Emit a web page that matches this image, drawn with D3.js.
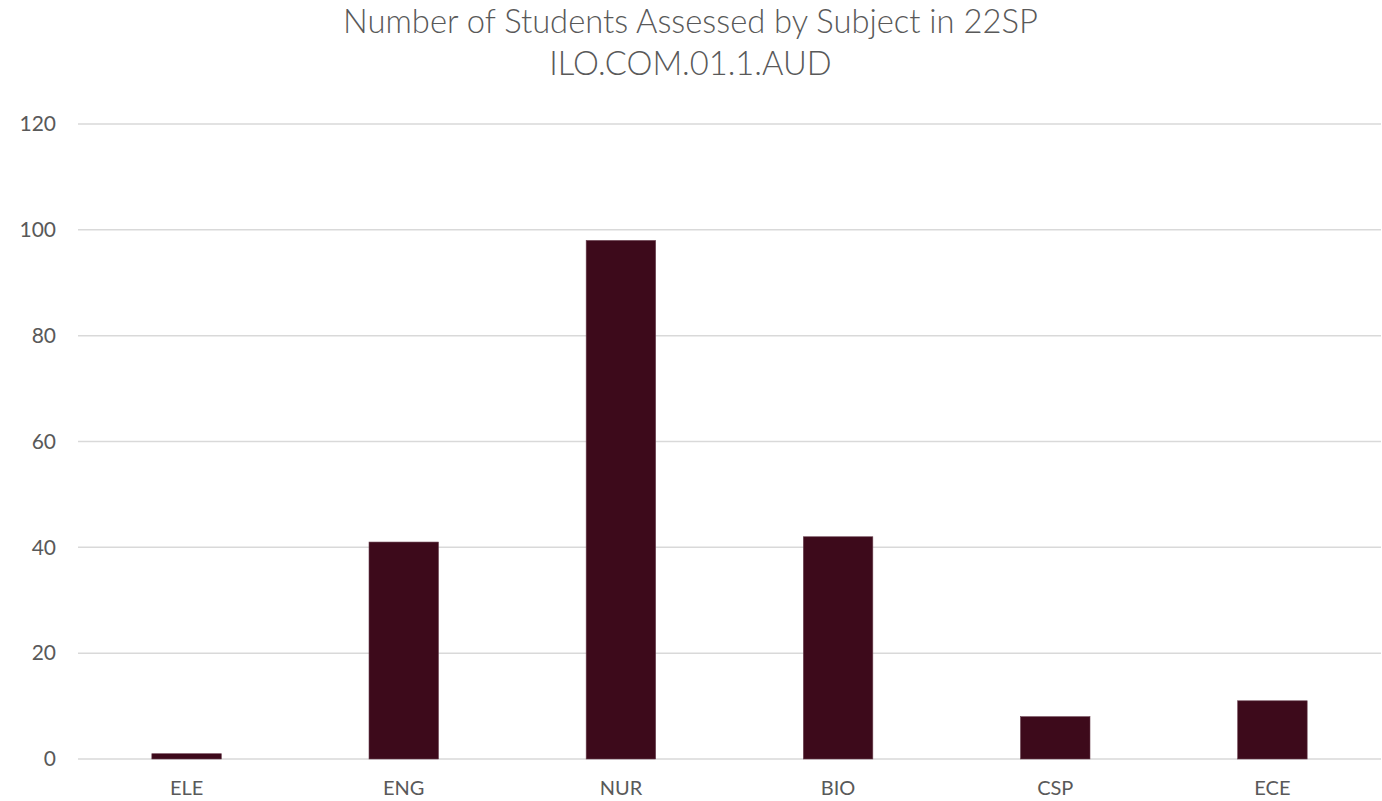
<!DOCTYPE html>
<html>
<head>
<meta charset="utf-8">
<script src="https://cdn.jsdelivr.net/npm/d3@7"></script>
<style>
  body { margin: 0; background: #fff; }
  text { font-family: Lato, "Open Sans", sans-serif; fill: #595959; }
</style>
</head>
<body>
<div id="chart"></div>
<script>
// chart data
var subjects = ["ELE", "ENG", "NUR", "BIO", "CSP", "ECE"];
var students = [1, 41, 98, 42, 8, 11];
var yTicks = [0, 20, 40, 60, 80, 100, 120];
var titleLines = ["Number of Students Assessed by Subject in 22SP", "ILO.COM.01.1.AUD"];

var svgWidth = 1382;
var svgHeight = 801;

var margin = { top: 124, right: 1, bottom: 42, left: 78 };
var width = svgWidth - margin.left - margin.right;
var height = svgHeight - margin.top - margin.bottom;

var svg = d3.select("#chart")
  .append("svg")
  .attr("width", svgWidth)
  .attr("height", svgHeight);

// title, sized to the width of the original
var title = svg.append("g");
var line1 = title.append("text")
  .attr("x", 690.5)
  .attr("y", 33)
  .attr("text-anchor", "middle")
  .attr("font-weight", 300)
  .attr("font-size", 30)
  .text(titleLines[0]);
var fit = 30 * 695 / line1.node().getComputedTextLength();
line1.attr("font-size", fit);
title.append("text")
  .attr("x", 690.5)
  .attr("y", 75)
  .attr("text-anchor", "middle")
  .attr("font-weight", 300)
  .attr("font-size", fit)
  .text(titleLines[1]);

var chartGroup = svg.append("g")
  .attr("transform", `translate(${margin.left}, ${margin.top})`);

var xScale = d3.scaleBand()
  .domain(subjects)
  .range([0, width])
  .paddingInner(0.68)
  .paddingOuter(0.34);

var yScale = d3.scaleLinear()
  .domain([0, 120])
  .range([height, 0]);

// gridlines
chartGroup.append("g")
  .selectAll("line")
  .data(yTicks)
  .enter()
  .append("line")
  .attr("x1", 0)
  .attr("x2", width)
  .attr("y1", d => yScale(d))
  .attr("y2", d => yScale(d))
  .attr("stroke", "#d9d9d9")
  .attr("stroke-width", 1.5);

// y axis labels
var leftAxis = d3.axisLeft(yScale).tickValues(yTicks).tickSize(0).tickPadding(22);
var yAxis = chartGroup.append("g").call(leftAxis);
yAxis.select(".domain").remove();
yAxis.selectAll("text")
  .attr("font-size", 21)
  .attr("fill", "#595959")
  .attr("font-family", "Lato, 'Open Sans', sans-serif");

// bars
chartGroup.selectAll("rect")
  .data(students)
  .enter()
  .append("rect")
  .attr("x", (d, i) => xScale(subjects[i]))
  .attr("y", d => yScale(d))
  .attr("width", xScale.bandwidth())
  .attr("height", d => height - yScale(d))
  .attr("fill", "#3d0a1b")
  .attr("stroke", "#6a4150")
  .attr("stroke-width", 0.6);

// x axis labels
var bottomAxis = d3.axisBottom(xScale).tickSize(0).tickPadding(22);
var xAxis = chartGroup.append("g")
  .attr("transform", `translate(0, ${height})`)
  .call(bottomAxis);
xAxis.select(".domain").remove();
xAxis.selectAll("text")
  .attr("font-size", 20)
  .attr("fill", "#595959")
  .attr("font-family", "Lato, 'Open Sans', sans-serif");
</script>
</body>
</html>
